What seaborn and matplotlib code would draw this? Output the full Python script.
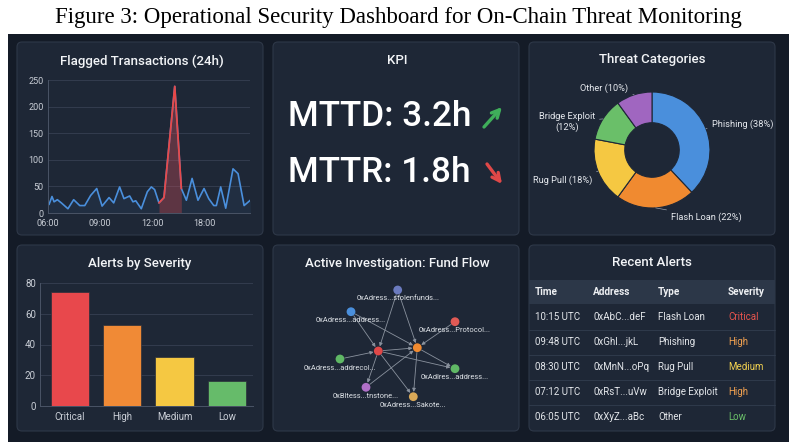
import numpy as np
import pandas as pd
import matplotlib
matplotlib.use("Agg")
import matplotlib.pyplot as plt
import seaborn as sns
from matplotlib.patches import FancyBboxPatch, Rectangle

# ---------------- data ----------------
hours = [0.06, 0.23, 0.35, 0.54, 0.77, 1.15, 1.48, 1.83, 2.12, 2.46, 2.81, 3.12,
         3.52, 3.79, 4.13, 4.38, 4.71, 4.90, 5.06, 5.38, 5.73, 5.96, 6.15, 6.40,
         6.69, 7.31, 7.69, 7.98, 8.31, 8.65, 9.00, 9.27, 9.56, 9.71, 9.96, 10.25,
         10.67, 10.96, 11.31, 11.67]
flagged = [16, 31, 21, 25, 19, 8, 25, 14, 14, 33, 46, 13,
           29, 19, 49, 27, 32, 21, 23, 8, 40, 49, 44, 19,
           29, 238, 46, 24, 65, 24, 46, 27, 14, 14, 49, 9,
           83, 74, 14, 24]
spike_first, spike_last = 23, 26
time_ticks = [0, 3, 6, 9]
time_labels = ["06:00", "09:00", "12:00", "18:00"]

kpi_names = ["MTTD", "MTTR"]
kpi_values = [3.2, 1.8]
kpi_trend = ["up", "down"]

threat_labels = ["Phishing", "Flash Loan", "Rug Pull", "Bridge Exploit", "Other"]
threat_share = [38, 22, 18, 12, 10]

severity = ["Critical", "High", "Medium", "Low"]
severity_counts = [74, 53, 32, 16]

node_names = ["0xAdress...stolenfunds...", "0xAdress...address...", "0xAdress...Protocol...",
              "", "", "0xAdress...addrecol...", "0xAdlres...address...",
              "0xBltess...tnstone...", "0xAdress...Sakote..."]
node_x = [124.7, 78.0, 182.0, 105.3, 144.3, 67.0, 182.0, 93.0, 140.3]
node_y = [45.0, 66.7, 76.7, 106.0, 102.7, 114.0, 123.7, 142.3, 151.7]
edge_src = [0, 0, 1, 1, 2, 5, 3, 3, 4, 3, 7, 3, 4]
edge_dst = [3, 4, 3, 4, 4, 3, 4, 6, 6, 7, 4, 8, 8]

alert_time = ["10:15 UTC", "09:48 UTC", "08:30 UTC", "07:12 UTC", "06:05 UTC"]
alert_addr = ["0xAbC...deF", "0xGhI...jkL", "0xMnN...oPq", "0xRsT...uVw", "0xXyZ...aBc"]
alert_type = ["Flash Loan", "Phishing", "Rug Pull", "Bridge Exploit", "Other"]
alert_sev = ["Critical", "High", "Medium", "High", "Low"]

# ---------------- style ----------------
sns.set_style("dark")
plt.rcParams["font.family"] = ["Roboto", "DejaVu Sans"]

OUTER = "#141b27"
PANEL = "#1e2736"
EDGE = "#2e3848"
GRID = "#364052"
TXT = "#f2f4f7"
TICK = "#c9ced6"
BLUE = "#4a8fdc"
RED = "#e84848"
sev_colors = {"Critical": "#e8484c", "High": "#f08a36", "Medium": "#f5c842", "Low": "#66bb6a"}
sev_text = {"Critical": "#e8554e", "High": "#f0a050", "Medium": "#f0d050", "Low": "#6abf69"}
pie_colors = ["#4a8fdc", "#f08a30", "#f5c842", "#6abf69", "#a066c0"]
node_colors = ["#6b7bbf", "#4a8fdc", "#e05a55", "#e04848", "#f08a30",
               "#5fb865", "#5fb865", "#b070c8", "#d9a857"]

W, H = 792, 442
fig = plt.figure(figsize=(W / 100, H / 100), dpi=100)
fig.patch.set_facecolor("white")


def px_axes(x0, y0, x1, y1):
    ax = fig.add_axes([x0 / W, 1 - y1 / H, (x1 - x0) / W, (y1 - y0) / H])
    ax.set_facecolor("none")
    return ax


bg = fig.add_axes([0, 0, 1, 1])
bg.set_xlim(0, W)
bg.set_ylim(H, 0)
bg.axis("off")
bg.add_patch(Rectangle((8, 34), 781, 408, color=OUTER, lw=0))
panels = [(17, 42, 263, 235), (273, 42, 519, 235), (529, 42, 775, 235),
          (17, 245, 263, 431), (273, 245, 519, 431), (529, 245, 775, 431)]
for x0, y0, x1, y1 in panels:
    bg.add_patch(FancyBboxPatch((x0, y0), x1 - x0, y1 - y0,
                                boxstyle="round,pad=0,rounding_size=5",
                                fc=PANEL, ec=EDGE, lw=0.8))

bg.text(398, 17, "Figure 3: Operational Security Dashboard for On-Chain Threat Monitoring",
        ha="center", va="center", family="Liberation Serif", size=16.5, color="black")

titles = [("Flagged Transactions (24h)", 142, 61), ("KPI", 397, 61), ("Threat Categories", 652, 60),
          ("Alerts by Severity", 140, 264), ("Active Investigation: Fund Flow", 397, 264),
          ("Recent Alerts", 652, 263)]
for t, x, y in titles:
    bg.text(x, y, t, ha="center", va="center", size=9.5, color=TXT, weight="medium")


def style_axes(ax, size):
    ax.grid(axis="y", color=GRID, lw=0.6)
    ax.grid(axis="x", visible=False)
    for s in ["top", "right"]:
        ax.spines[s].set_visible(False)
    for s in ["left", "bottom"]:
        ax.spines[s].set_color("#4a5466")
        ax.spines[s].set_linewidth(0.7)
    ax.tick_params(axis="y", length=0, colors=TICK, labelsize=size, pad=3)
    ax.tick_params(axis="x", length=2.5, color="#5a6476", colors=TICK, labelsize=size, pad=2)
    ax.set_xlabel("")
    ax.set_ylabel("")


# ---------------- line chart ----------------
ax1 = px_axes(48, 80, 250, 213)
df_line = pd.DataFrame({"t": hours, "n": flagged})
ax1.fill_between(hours, flagged, 0, color=BLUE, alpha=0.07, lw=0)
spk = df_line.iloc[spike_first:spike_last + 1]
ax1.fill_between(spk["t"], spk["n"], 0, color=RED, alpha=0.3, lw=0)
sns.lineplot(data=df_line, x="t", y="n", ax=ax1, color=BLUE, lw=1.2)
sns.lineplot(data=spk, x="t", y="n", ax=ax1, color=RED, lw=1.3)
ax1.set_xlim(0, 11.65)
ax1.set_ylim(0, 250)
ax1.set_yticks(range(0, 251, 50))
ax1.set_xticks(time_ticks)
ax1.set_xticklabels(time_labels)
style_axes(ax1, 6.5)

# ---------------- KPI ----------------
kpi_y = [116, 173]
for name, val, trend, y in zip(kpi_names, kpi_values, kpi_trend, kpi_y):
    bg.text(288, y, f"{name}: {val}h", ha="left", va="center", size=25.3,
            color="white", weight="medium")
    if trend == "up":
        bg.annotate("", xy=(502, 107), xytext=(484, 127),
                    arrowprops=dict(arrowstyle="->", lw=2.4, color="#3fae5a",
                                    mutation_scale=14, shrinkA=0, shrinkB=0))
    else:
        bg.annotate("", xy=(502, 184), xytext=(487, 164),
                    arrowprops=dict(arrowstyle="->", lw=2.4, color="#e04848",
                                    mutation_scale=14, shrinkA=0, shrinkB=0))

# ---------------- donut ----------------
R = 58.0
cx, cy = 652, 150
ax3 = px_axes(529, 75, 775, 232)
wedges, _ = ax3.pie(threat_share, colors=pie_colors, startangle=90, counterclock=False,
                    radius=1.0, wedgeprops=dict(width=0.53, edgecolor=PANEL, linewidth=0.8))
ax3.set_aspect("auto")
ax3.set_xlim((529 - cx) / R, (775 - cx) / R)
ax3.set_ylim((cy - 232) / R, (cy - 75) / R)
ax3.axis("off")
label_pos = [(1.03, 0.45, "left"), (0.33, -1.16, "left"), (-1.02, -0.52, "right"),
             (-1.47, 0.48, "center"), (-0.41, 1.07, "right")]
for w, lab, share, (lx, ly, ha) in zip(wedges, threat_labels, threat_share, label_pos):
    ang = np.deg2rad((w.theta1 + w.theta2) / 2)
    ex, ey = np.cos(ang), np.sin(ang)
    txt = f"{lab}\n({share}%)" if lab == "Bridge Exploit" else f"{lab} ({share}%)"
    ax3.annotate(txt, xy=(ex, ey), xytext=(lx, ly), ha=ha, va="center", size=6.7,
                 color="#e6e9ee", linespacing=1.1,
                 arrowprops=dict(arrowstyle="-", color="#9aa2ae", lw=0.5, shrinkA=1, shrinkB=0))

# ---------------- bar chart ----------------
ax4 = px_axes(40, 283, 253, 406)
df_bar = pd.DataFrame({"sev": severity, "n": severity_counts})
sns.barplot(data=df_bar, x="sev", y="n", hue="sev", palette=sev_colors, legend=False,
            width=0.73, ax=ax4, edgecolor="#2a2f3a", linewidth=0.5, saturation=1)
ax4.set_xlim(-0.57, 3.5)
ax4.set_ylim(0, 80)
ax4.set_yticks(range(0, 81, 20))
style_axes(ax4, 7)

# ---------------- network ----------------
ax5 = px_axes(273, 245, 519, 431)
ax5.set_xlim(0, 246)
ax5.set_ylim(186, 0)
ax5.axis("off")
for s, d in zip(edge_src, edge_dst):
    ax5.annotate("", xy=(node_x[d], node_y[d]), xytext=(node_x[s], node_y[s]),
                 arrowprops=dict(arrowstyle="-|>", color="#8a929e", lw=0.6,
                                 mutation_scale=5, shrinkA=3.5, shrinkB=3.5))
df_nodes = pd.DataFrame({"x": node_x, "y": node_y, "node": [f"n{i}" for i in range(len(node_x))]})
sns.scatterplot(data=df_nodes, x="x", y="y", hue="node", palette=node_colors,
                s=40, legend=False, ax=ax5, edgecolor="none", zorder=5)
for x, y, n in zip(node_x, node_y, node_names):
    if n:
        ax5.text(x, y + 9, n, ha="center", va="center", size=5.4, color="#dfe3e8")
ax5.set_xlim(0, 246)
ax5.set_ylim(186, 0)
ax5.axis("off")

# ---------------- table ----------------
bg.add_patch(Rectangle((529, 280), 246, 24, color="#2c3748", lw=0))
col_x = [535, 593, 658, 728]
headers = ["Time", "Address", "Type", "Severity"]
for x, h in zip(col_x, headers):
    bg.text(x, 292, h, ha="left", va="center", size=7.2, weight="bold", color="#eef0f3")
row_y = [317, 342, 367, 392, 417]
for i, y in enumerate(row_y):
    bg.text(col_x[0], y, alert_time[i], ha="left", va="center", size=7, color="#e3e6ea")
    bg.text(col_x[1], y, alert_addr[i], ha="left", va="center", size=7, color="#e3e6ea")
    bg.text(col_x[2], y, alert_type[i], ha="left", va="center", size=7, color="#e3e6ea")
    bg.text(col_x[3], y, alert_sev[i], ha="left", va="center", size=7, color=sev_text[alert_sev[i]])
    if i < len(row_y) - 1:
        bg.plot([529, 775], [y + 12.5, y + 12.5], color="#323d4e", lw=0.6)

fig.savefig("out.png", dpi=100, facecolor="white")
